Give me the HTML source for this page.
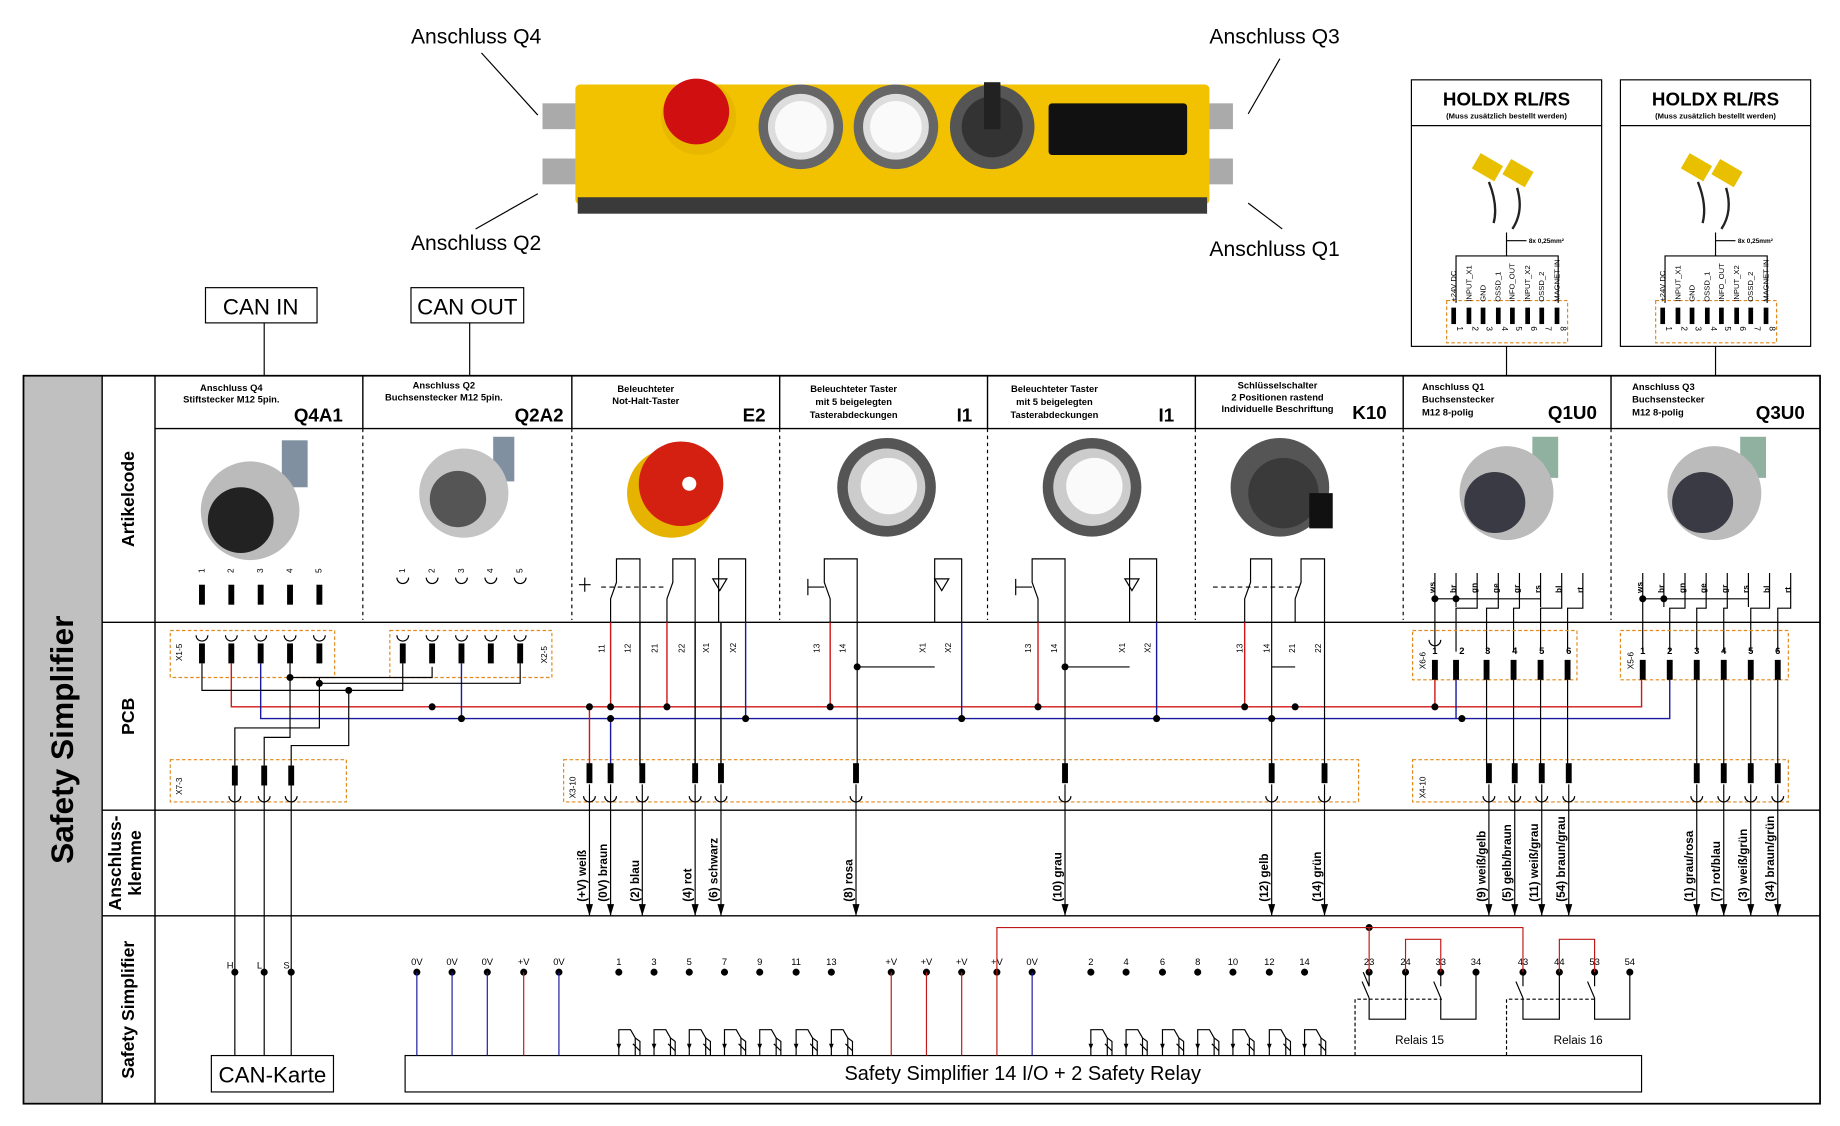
<!DOCTYPE html>
<html><head><meta charset="utf-8"><style>
html,body{margin:0;padding:0;background:#fff}
svg{display:block}
text{font-family:"Liberation Sans",sans-serif}
</style></head><body>
<svg width="1840" height="1126" viewBox="0 0 1567 959" preserveAspectRatio="none" xmlns="http://www.w3.org/2000/svg">
<defs>
<g id="bar"><rect x="-2.5" y="0" width="5" height="17" fill="#000"/></g>
<g id="cup"><path d="M-5,0 a5,5 0 0 0 10,0" fill="none" stroke="#000" stroke-width="1"/></g>
<g id="dot"><circle r="3" fill="#000"/></g>
<g id="arr"><path d="M-3,-10 L3,-10 L0,0 Z" fill="#000"/></g>
<g id="tr"><path d="M0,0 V-22 H10 L14,-15 V0 M14,-15 L18,-12 V0 M12,-10 l6,6" fill="none" stroke="#000" stroke-width="1"/><path d="M-2,-10 l2,5 l2,-5z" fill="#000"/></g>
</defs>

<!-- top device -->
<text x="350" y="37" font-size="18">Anschluss Q4</text>
<text x="350" y="213" font-size="18">Anschluss Q2</text>
<text x="1030" y="37" font-size="18">Anschluss Q3</text>
<text x="1030" y="218" font-size="18">Anschluss Q1</text>
<line x1="410" y1="45" x2="458" y2="98" stroke="#000"/>
<line x1="405" y1="195" x2="458" y2="165" stroke="#000"/>
<line x1="1090" y1="50" x2="1063" y2="97" stroke="#000"/>
<line x1="1063" y1="173" x2="1092" y2="195" stroke="#000"/>
<rect x="462" y="88" width="30" height="22" fill="#aaa"/><rect x="462" y="135" width="30" height="22" fill="#aaa"/>
<rect x="1028" y="88" width="22" height="22" fill="#aaa"/><rect x="1028" y="135" width="22" height="22" fill="#aaa"/>
<rect x="490" y="72" width="540" height="102" rx="4" fill="#f2c200"/>
<rect x="492" y="168" width="536" height="14" fill="#3a3a3a"/>
<circle cx="595" cy="100" r="32" fill="#e8b800"/><circle cx="593" cy="95" r="28" fill="#d01010"/>
<circle cx="682" cy="108" r="36" fill="#666"/><circle cx="682" cy="108" r="28" fill="#ddd"/><circle cx="682" cy="108" r="22" fill="#fafafa"/>
<circle cx="763" cy="108" r="36" fill="#666"/><circle cx="763" cy="108" r="28" fill="#ddd"/><circle cx="763" cy="108" r="22" fill="#fafafa"/>
<circle cx="845" cy="108" r="36" fill="#555"/><circle cx="845" cy="108" r="26" fill="#333"/><rect x="838" y="70" width="14" height="40" fill="#222"/>
<rect x="893" y="88" width="118" height="44" rx="3" fill="#111"/>

<!-- CAN boxes -->
<rect x="175" y="245" width="95" height="30" fill="#fff" stroke="#000"/><text x="222" y="268" font-size="19" text-anchor="middle">CAN IN</text>
<rect x="350" y="245" width="96" height="30" fill="#fff" stroke="#000"/><text x="398" y="268" font-size="19" text-anchor="middle">CAN OUT</text>
<line x1="225" y1="275" x2="225" y2="320" stroke="#000"/><line x1="400" y1="275" x2="400" y2="320" stroke="#000"/>

<!-- HOLDX boxes -->
<g id="hx">
<rect x="1202" y="68" width="162" height="227" fill="#fff" stroke="#000"/>
<line x1="1202" y1="107" x2="1364" y2="107" stroke="#000"/>
<text x="1283" y="90" font-size="16" font-weight="bold" text-anchor="middle">HOLDX RL/RS</text>
<text x="1283" y="101" font-size="6.5" font-weight="bold" text-anchor="middle">(Muss zusätzlich bestellt werden)</text>
<rect x="1256" y="135" width="22" height="15" fill="#e8c000" transform="rotate(30 1267 142)"/>
<rect x="1282" y="140" width="22" height="15" fill="#e8c000" transform="rotate(30 1293 147)"/>
<path d="M1268,155 q8,20 4,35 M1292,160 q6,20 -4,35" stroke="#222" stroke-width="2" fill="none"/>
<line x1="1283" y1="198" x2="1283" y2="218" stroke="#000"/><line x1="1283" y1="205" x2="1300" y2="205" stroke="#000"/>
<text x="1302" y="207" font-size="5.5" font-weight="bold">8x 0,25mm²</text>
<path d="M1240,258 V218 H1327 V258" fill="none" stroke="#000"/>
<rect x="1232" y="256" width="103" height="36" fill="none" stroke="#e08a1e" stroke-dasharray="3,2"/>
<g font-size="6.5">
<text transform="translate(1240,257) rotate(-90)">+24V DC</text>
<text transform="translate(1253,257) rotate(-90)">INPUT_X1</text>
<text transform="translate(1265,257) rotate(-90)">GND</text>
<text transform="translate(1278,257) rotate(-90)">OSSD_1</text>
<text transform="translate(1290,257) rotate(-90)">INFO_OUT</text>
<text transform="translate(1303,257) rotate(-90)">INPUT_X2</text>
<text transform="translate(1315,257) rotate(-90)">OSSD_2</text>
<text transform="translate(1328,257) rotate(-90)">MAGNET IN</text>
</g>
<g fill="#000"><rect x="1236" y="262" width="4" height="14"/><rect x="1249" y="262" width="4" height="14"/><rect x="1261" y="262" width="4" height="14"/><rect x="1274" y="262" width="4" height="14"/><rect x="1286" y="262" width="4" height="14"/><rect x="1299" y="262" width="4" height="14"/><rect x="1311" y="262" width="4" height="14"/><rect x="1324" y="262" width="4" height="14"/></g>
<g font-size="7"><text transform="translate(1241,278) rotate(90)">1</text><text transform="translate(1254,278) rotate(90)">2</text><text transform="translate(1266,278) rotate(90)">3</text><text transform="translate(1279,278) rotate(90)">4</text><text transform="translate(1291,278) rotate(90)">5</text><text transform="translate(1304,278) rotate(90)">6</text><text transform="translate(1316,278) rotate(90)">7</text><text transform="translate(1329,278) rotate(90)">8</text></g>
</g>
<use href="#hx" x="178"/>
<line x1="1283" y1="295" x2="1283" y2="320" stroke="#000"/><line x1="1461" y1="295" x2="1461" y2="320" stroke="#000"/>

<!-- main frame -->
<rect x="20" y="320" width="67" height="620" fill="#c0c0c0"/>
<rect x="20" y="320" width="1530" height="620" fill="none" stroke="#000" stroke-width="1.5"/>
<g stroke="#000" stroke-width="1.2">
<line x1="87" y1="320" x2="87" y2="940"/><line x1="132" y1="320" x2="132" y2="940"/>
<line x1="87" y1="530" x2="1550" y2="530"/><line x1="87" y1="690" x2="1550" y2="690"/><line x1="87" y1="780" x2="1550" y2="780"/>
<line x1="132" y1="365" x2="1550" y2="365"/>
<line x1="309" y1="320" x2="309" y2="365"/><line x1="487" y1="320" x2="487" y2="365"/><line x1="664" y1="320" x2="664" y2="365"/><line x1="841" y1="320" x2="841" y2="365"/><line x1="1018" y1="320" x2="1018" y2="365"/><line x1="1195" y1="320" x2="1195" y2="365"/><line x1="1372" y1="320" x2="1372" y2="365"/>
</g>
<g stroke="#000" stroke-dasharray="3,3">
<line x1="309" y1="365" x2="309" y2="528"/><line x1="487" y1="365" x2="487" y2="528"/><line x1="664" y1="365" x2="664" y2="528"/><line x1="841" y1="365" x2="841" y2="528"/><line x1="1018" y1="365" x2="1018" y2="528"/><line x1="1195" y1="365" x2="1195" y2="528"/><line x1="1372" y1="365" x2="1372" y2="528"/>
</g>
<text transform="translate(62,630) rotate(-90)" font-size="27" font-weight="bold" text-anchor="middle">Safety Simplifier</text>
<g font-weight="bold" font-size="15" text-anchor="middle">
<text transform="translate(114,425) rotate(-90)">Artikelcode</text>
<text transform="translate(114,610) rotate(-90)">PCB</text>
<text transform="translate(103,735) rotate(-90)">Anschluss-</text>
<text transform="translate(120,735) rotate(-90)">klemme</text>
<text transform="translate(114,860) rotate(-90)">Safety Simplifier</text>
</g>

<!-- header texts -->
<g font-size="8" font-weight="bold" text-anchor="middle">
<text x="197" y="333">Anschluss Q4</text><text x="197" y="343">Stiftstecker M12 5pin.</text>
<text x="378" y="331">Anschluss Q2</text><text x="378" y="341">Buchsenstecker M12 5pin.</text>
<text x="550" y="334">Beleuchteter</text><text x="550" y="344">Not-Halt-Taster</text>
<text x="727" y="334">Beleuchteter Taster</text><text x="727" y="345">mit 5 beigelegten</text><text x="727" y="356">Tasterabdeckungen</text>
<text x="898" y="334">Beleuchteter Taster</text><text x="898" y="345">mit 5 beigelegten</text><text x="898" y="356">Tasterabdeckungen</text>
<text x="1088" y="331">Schlüsselschalter</text><text x="1088" y="341">2 Positionen rastend</text><text x="1088" y="351">Individuelle Beschriftung</text>
</g>
<g font-size="8" font-weight="bold">
<text x="1211" y="332">Anschluss Q1</text><text x="1211" y="343">Buchsenstecker</text><text x="1211" y="354">M12 8-polig</text>
<text x="1390" y="332">Anschluss Q3</text><text x="1390" y="343">Buchsenstecker</text><text x="1390" y="354">M12 8-polig</text>
</g>
<g font-size="16" font-weight="bold" text-anchor="end">
<text x="292" y="359">Q4A1</text><text x="480" y="359">Q2A2</text><text x="652" y="359">E2</text><text x="828" y="359">I1</text><text x="1000" y="359">I1</text><text x="1181" y="357">K10</text><text x="1360" y="357">Q1U0</text><text x="1537" y="357">Q3U0</text>
</g>

<!-- component images -->
<rect x="240" y="375" width="22" height="40" fill="#8090a0"/>
<circle cx="213" cy="435" r="42" fill="#bbb"/><circle cx="205" cy="443" r="28" fill="#222"/>
<rect x="420" y="372" width="18" height="38" fill="#8090a0"/>
<circle cx="395" cy="420" r="38" fill="#c4c4c4"/><circle cx="390" cy="425" r="24" fill="#555"/>
<circle cx="572" cy="420" r="38" fill="#e6b400"/><circle cx="580" cy="412" r="36" fill="#d42010"/><circle cx="587" cy="412" r="6" fill="#fff"/>
<circle cx="755" cy="415" r="42" fill="#555"/><circle cx="755" cy="415" r="33" fill="#ccc"/><circle cx="757" cy="414" r="24" fill="#fafafa"/>
<circle cx="930" cy="415" r="42" fill="#555"/><circle cx="930" cy="415" r="33" fill="#ccc"/><circle cx="932" cy="414" r="24" fill="#fafafa"/>
<circle cx="1090" cy="415" r="42" fill="#555"/><circle cx="1093" cy="420" r="30" fill="#3a3a3a"/><rect x="1115" y="420" width="20" height="30" fill="#111"/>
<rect x="1305" y="372" width="22" height="35" fill="#90b0a0"/>
<circle cx="1283" cy="420" r="40" fill="#bbb"/><circle cx="1273" cy="428" r="26" fill="#3a3a44"/>
<rect x="1482" y="372" width="22" height="35" fill="#90b0a0"/>
<circle cx="1460" cy="420" r="40" fill="#bbb"/><circle cx="1450" cy="428" r="26" fill="#3a3a44"/>

<!-- pins Q4A1 -->
<g font-size="7">
<text transform="translate(174,488) rotate(-90)">1</text><text transform="translate(199,488) rotate(-90)">2</text><text transform="translate(224,488) rotate(-90)">3</text><text transform="translate(249,488) rotate(-90)">4</text><text transform="translate(274,488) rotate(-90)">5</text>
<text transform="translate(345,488) rotate(-90)">1</text><text transform="translate(370,488) rotate(-90)">2</text><text transform="translate(395,488) rotate(-90)">3</text><text transform="translate(420,488) rotate(-90)">4</text><text transform="translate(445,488) rotate(-90)">5</text>
</g>
<use href="#bar" x="172" y="498"/><use href="#bar" x="197" y="498"/><use href="#bar" x="222" y="498"/><use href="#bar" x="247" y="498"/><use href="#bar" x="272" y="498"/>
<g><use href="#cup" x="343" y="492"/><use href="#cup" x="368" y="492"/><use href="#cup" x="393" y="492"/><use href="#cup" x="418" y="492"/><use href="#cup" x="443" y="492"/></g>

<!-- switch symbols -->
<g stroke="#000" fill="none" stroke-width="1">
<path d="M520,530 V510 l5,-14 V476 H545 V530"/><path d="M568,530 V510 l5,-14 V476 H592 V530"/><path d="M612,530 V476 H635 V530"/>
<path d="M512,500 H568" stroke-dasharray="4,3"/><path d="M493,498 h10 M498,492 v12"/>
<path d="M707,530 V510 l-5,-14 V476 H730 V530"/><path d="M688,500 h14 M688,493 v14"/><path d="M796,530 V476 H819 V530"/>
<path d="M884,530 V510 l-5,-14 V476 H907 V530"/><path d="M865,500 h14 M865,493 v14"/><path d="M962,530 V476 H985 V530"/>
<path d="M1060,530 V510 l5,-14 V476 H1083 V530"/><path d="M1103,530 V510 l5,-14 V476 H1128 V530"/><path d="M1033,500 H1108" stroke-dasharray="4,3"/>
</g>
<path d="M607,493 h12 l-6,10z M796,493 h12 l-6,10z M958,493 h12 l-6,10z" fill="none" stroke="#000"/>

<!-- Q1/Q3 pin symbols -->
<g font-size="7" font-weight="bold">
<text transform="translate(1222,505) rotate(-90)">ws</text><text transform="translate(1240,505) rotate(-90)">br</text><text transform="translate(1258,505) rotate(-90)">gn</text><text transform="translate(1276,505) rotate(-90)">ge</text><text transform="translate(1294,505) rotate(-90)">gr</text><text transform="translate(1312,505) rotate(-90)">rs</text><text transform="translate(1330,505) rotate(-90)">bl</text><text transform="translate(1348,505) rotate(-90)">rt</text>
<text transform="translate(1399,505) rotate(-90)">ws</text><text transform="translate(1417,505) rotate(-90)">br</text><text transform="translate(1435,505) rotate(-90)">gn</text><text transform="translate(1453,505) rotate(-90)">ge</text><text transform="translate(1471,505) rotate(-90)">gr</text><text transform="translate(1489,505) rotate(-90)">rs</text><text transform="translate(1507,505) rotate(-90)">bl</text><text transform="translate(1525,505) rotate(-90)">rt</text>
</g>
<g stroke="#000" fill="none">
<path d="M1222,488 V555 M1240,488 V517 M1258,488 V518 H1240 V555 M1276,488 V518 H1266 V555 M1294,488 V518 H1289 V555 M1312,488 V517 M1330,488 V518 H1312 V555 M1348,488 V518 H1335 V555 M1222,510 H1312"/>
<path d="M1399,488 V555 M1417,488 V517 M1435,488 V518 H1422 V555 M1453,488 V518 H1445 V555 M1471,488 V518 H1468 V555 M1489,488 V517 M1507,488 V518 H1491 V555 M1525,488 V518 H1514 V555 M1399,510 H1489"/>
</g>
<use href="#dot" x="1222" y="510"/><use href="#dot" x="1240" y="510"/><use href="#dot" x="1399" y="510"/><use href="#dot" x="1417" y="510"/>

<!-- PCB boxes -->
<g fill="none" stroke="#e08a1e" stroke-dasharray="3,2">
<rect x="145" y="537" width="140" height="40"/><rect x="332" y="537" width="138" height="40"/>
<rect x="1203" y="537" width="140" height="42"/><rect x="1380" y="537" width="143" height="42"/>
<rect x="145" y="647" width="150" height="36"/><rect x="480" y="647" width="677" height="36"/><rect x="1203" y="647" width="320" height="36"/>
</g>
<g font-size="7">
<text transform="translate(155,563) rotate(-90)">X1-5</text><text transform="translate(466,565) rotate(-90)">X2-5</text>
<text transform="translate(155,677) rotate(-90)">X7-3</text><text transform="translate(490,680) rotate(-90)">X3-10</text>
<text transform="translate(1214,570) rotate(-90)">X6-6</text><text transform="translate(1391,570) rotate(-90)">X5-6</text>
<text transform="translate(1214,680) rotate(-90)">X4-10</text>
</g>
<g>
<use href="#cup" x="172" y="541"/><use href="#cup" x="197" y="541"/><use href="#cup" x="222" y="541"/><use href="#cup" x="247" y="541"/><use href="#cup" x="272" y="541"/>
<use href="#cup" x="343" y="541"/><use href="#cup" x="368" y="541"/><use href="#cup" x="393" y="541"/><use href="#cup" x="418" y="541"/><use href="#cup" x="443" y="541"/>
<use href="#bar" x="172" y="548"/><use href="#bar" x="197" y="548"/><use href="#bar" x="222" y="548"/><use href="#bar" x="247" y="548"/><use href="#bar" x="272" y="548"/>
<use href="#bar" x="343" y="548"/><use href="#bar" x="368" y="548"/><use href="#bar" x="393" y="548"/><use href="#bar" x="418" y="548"/><use href="#bar" x="443" y="548"/>
<use href="#bar" x="1222" y="562"/><use href="#bar" x="1240" y="562"/><use href="#bar" x="1266" y="562"/><use href="#bar" x="1289" y="562"/><use href="#bar" x="1312" y="562"/><use href="#bar" x="1335" y="562"/>
<use href="#bar" x="1399" y="562"/><use href="#bar" x="1422" y="562"/><use href="#bar" x="1445" y="562"/><use href="#bar" x="1468" y="562"/><use href="#bar" x="1491" y="562"/><use href="#bar" x="1514" y="562"/>
<use href="#cup" x="1222" y="545"/>
</g>
<g font-size="8" font-weight="bold" text-anchor="middle">
<text x="1222" y="557">1</text><text x="1245" y="557">2</text><text x="1267" y="557">3</text><text x="1290" y="557">4</text><text x="1313" y="557">5</text><text x="1336" y="557">6</text>
<text x="1399" y="557">1</text><text x="1422" y="557">2</text><text x="1445" y="557">3</text><text x="1468" y="557">4</text><text x="1491" y="557">5</text><text x="1514" y="557">6</text>
</g>
<g font-size="7">
<text transform="translate(515,556) rotate(-90)">11</text><text transform="translate(537,556) rotate(-90)">12</text><text transform="translate(560,556) rotate(-90)">21</text><text transform="translate(583,556) rotate(-90)">22</text><text transform="translate(604,556) rotate(-90)">X1</text><text transform="translate(627,556) rotate(-90)">X2</text>
<text transform="translate(698,556) rotate(-90)">13</text><text transform="translate(720,556) rotate(-90)">14</text><text transform="translate(788,556) rotate(-90)">X1</text><text transform="translate(810,556) rotate(-90)">X2</text>
<text transform="translate(878,556) rotate(-90)">13</text><text transform="translate(900,556) rotate(-90)">14</text><text transform="translate(958,556) rotate(-90)">X1</text><text transform="translate(980,556) rotate(-90)">X2</text>
<text transform="translate(1058,556) rotate(-90)">13</text><text transform="translate(1081,556) rotate(-90)">14</text><text transform="translate(1103,556) rotate(-90)">21</text><text transform="translate(1125,556) rotate(-90)">22</text>
</g>

<!-- PCB wiring -->
<g fill="none" stroke-width="1.2">
<path d="M197,565 V602 H1398 V579 M520,530 V602 M568,530 V602 M707,530 V602 M884,530 V602 M1060,530 V602 M1222,579 V602" stroke="#d01818"/>
<path d="M222,565 V612 H1422 V579 M393,565 V612 M635,530 V612 M819,530 V612 M985,530 V612 M1240,579 V612" stroke="#1a1aa0"/>
<path d="M502,602 V652" stroke="#d01818"/><path d="M520,612 V652" stroke="#1a1aa0"/>
<path d="M545,530 V652 M592,530 V652 M614,530 V652" stroke="#000"/>
</g>
<g fill="none" stroke="#000">
<path d="M172,565 V588 H343 V565 M247,565 V577 H368 V568 M272,565 V560 M272,577 V582 H443 V565 M297,588 V635 H248 V652 M247,577 V628 H225 V652 M272,582 V620 H200 V652"/>
<path d="M730,530 V652 M730,568 H796 M907,530 V652 M907,568 H962 M1083,530 V652 M1083,568 H1103 M1128,530 V652"/>
<path d="M1266,579 V652 M1289,579 V652 M1312,579 V652 M1335,579 V652 M1445,579 V652 M1468,579 V652 M1491,579 V652 M1514,579 V652"/>
</g>
<use href="#dot" x="247" y="577"/><use href="#dot" x="272" y="582"/><use href="#dot" x="297" y="588"/><use href="#dot" x="368" y="602"/><use href="#dot" x="393" y="612"/>
<use href="#dot" x="502" y="602"/><use href="#dot" x="520" y="602"/><use href="#dot" x="568" y="602"/><use href="#dot" x="520" y="612"/><use href="#dot" x="635" y="612"/>
<use href="#dot" x="707" y="602"/><use href="#dot" x="819" y="612"/><use href="#dot" x="730" y="568"/><use href="#dot" x="884" y="602"/><use href="#dot" x="985" y="612"/><use href="#dot" x="907" y="568"/>
<use href="#dot" x="1060" y="602"/><use href="#dot" x="1083" y="612"/><use href="#dot" x="1103" y="602"/><use href="#dot" x="1222" y="602"/><use href="#dot" x="1245" y="612"/>

<!-- lower bars & cups -->
<g>
<use href="#bar" x="200" y="652"/><use href="#bar" x="225" y="652"/><use href="#bar" x="248" y="652"/>
<use href="#bar" x="502" y="650"/><use href="#bar" x="520" y="650"/><use href="#bar" x="547" y="650"/><use href="#bar" x="592" y="650"/><use href="#bar" x="614" y="650"/><use href="#bar" x="729" y="650"/><use href="#bar" x="907" y="650"/><use href="#bar" x="1083" y="650"/><use href="#bar" x="1128" y="650"/>
<use href="#bar" x="1268" y="650"/><use href="#bar" x="1290" y="650"/><use href="#bar" x="1313" y="650"/><use href="#bar" x="1336" y="650"/><use href="#bar" x="1445" y="650"/><use href="#bar" x="1468" y="650"/><use href="#bar" x="1491" y="650"/><use href="#bar" x="1514" y="650"/>
</g>
<g fill="none" stroke="#000">
<path d="M200,668 V899 M225,668 V899 M248,668 V899"/>
<path d="M502,668 V780 M520,668 V780 M547,668 V780 M592,668 V780 M614,668 V780 M729,668 V780 M907,668 V780 M1083,668 V780 M1128,668 V780 M1268,668 V780 M1290,668 V780 M1313,668 V780 M1336,668 V780 M1445,668 V780 M1468,668 V780 M1491,668 V780 M1514,668 V780"/>
</g>
<g fill="none" stroke="#000"><path d="M195,678 a5,5 0 0 0 10,0 M220,678 a5,5 0 0 0 10,0 M243,678 a5,5 0 0 0 10,0 M497,678 a5,5 0 0 0 10,0 M515,678 a5,5 0 0 0 10,0 M542,678 a5,5 0 0 0 10,0 M587,678 a5,5 0 0 0 10,0 M609,678 a5,5 0 0 0 10,0 M724,678 a5,5 0 0 0 10,0 M902,678 a5,5 0 0 0 10,0 M1078,678 a5,5 0 0 0 10,0 M1123,678 a5,5 0 0 0 10,0 M1263,678 a5,5 0 0 0 10,0 M1285,678 a5,5 0 0 0 10,0 M1308,678 a5,5 0 0 0 10,0 M1331,678 a5,5 0 0 0 10,0 M1440,678 a5,5 0 0 0 10,0 M1463,678 a5,5 0 0 0 10,0 M1486,678 a5,5 0 0 0 10,0 M1509,678 a5,5 0 0 0 10,0"/></g>

<!-- arrows -->
<g>
<use href="#arr" x="502" y="780"/><use href="#arr" x="520" y="780"/><use href="#arr" x="547" y="780"/><use href="#arr" x="592" y="780"/><use href="#arr" x="614" y="780"/><use href="#arr" x="729" y="780"/><use href="#arr" x="907" y="780"/><use href="#arr" x="1083" y="780"/><use href="#arr" x="1128" y="780"/>
<use href="#arr" x="1268" y="780"/><use href="#arr" x="1290" y="780"/><use href="#arr" x="1313" y="780"/><use href="#arr" x="1336" y="780"/><use href="#arr" x="1445" y="780"/><use href="#arr" x="1468" y="780"/><use href="#arr" x="1491" y="780"/><use href="#arr" x="1514" y="780"/>
</g>
<g font-size="10" font-weight="bold">
<text transform="translate(499,768) rotate(-90)">(+V) weiß</text><text transform="translate(517,768) rotate(-90)">(0V) braun</text><text transform="translate(544,768) rotate(-90)">(2) blau</text><text transform="translate(589,768) rotate(-90)">(4) rot</text><text transform="translate(611,768) rotate(-90)">(6) schwarz</text><text transform="translate(726,768) rotate(-90)">(8) rosa</text><text transform="translate(904,768) rotate(-90)">(10) grau</text><text transform="translate(1080,768) rotate(-90)">(12) gelb</text><text transform="translate(1125,768) rotate(-90)">(14) grün</text>
<text transform="translate(1265,768) rotate(-90)">(9) weiß/gelb</text><text transform="translate(1287,768) rotate(-90)">(5) gelb/braun</text><text transform="translate(1310,768) rotate(-90)">(11) weiß/grau</text><text transform="translate(1333,768) rotate(-90)">(54) braun/grau</text>
<text transform="translate(1442,768) rotate(-90)">(1) grau/rosa</text><text transform="translate(1465,768) rotate(-90)">(7) rot/blau</text><text transform="translate(1488,768) rotate(-90)">(3) weiß/grün</text><text transform="translate(1511,768) rotate(-90)">(34) braun/grün</text>
</g>

<!-- bottom section -->
<rect x="180" y="899" width="104" height="31" fill="#fff" stroke="#000"/><text x="232" y="922" font-size="19" text-anchor="middle">CAN-Karte</text>
<rect x="345" y="899" width="1053" height="31" fill="#fff" stroke="#000"/><text x="871" y="920" font-size="17" text-anchor="middle">Safety Simplifier 14 I/O + 2 Safety Relay</text>
<g font-size="8" text-anchor="middle">
<text x="196" y="825">H</text><text x="221" y="825">L</text><text x="244" y="825">S</text>
<text x="355" y="822">0V</text><text x="385" y="822">0V</text><text x="415" y="822">0V</text><text x="446" y="822">+V</text><text x="476" y="822">0V</text>
<text x="527" y="822">1</text><text x="557" y="822">3</text><text x="587" y="822">5</text><text x="617" y="822">7</text><text x="647" y="822">9</text><text x="678" y="822">11</text><text x="708" y="822">13</text>
<text x="759" y="822">+V</text><text x="789" y="822">+V</text><text x="819" y="822">+V</text><text x="849" y="822">+V</text><text x="879" y="822">0V</text>
<text x="929" y="822">2</text><text x="959" y="822">4</text><text x="990" y="822">6</text><text x="1020" y="822">8</text><text x="1050" y="822">10</text><text x="1081" y="822">12</text><text x="1111" y="822">14</text>
<text x="1166" y="822">23</text><text x="1197" y="822">24</text><text x="1227" y="822">33</text><text x="1257" y="822">34</text><text x="1297" y="822">43</text><text x="1328" y="822">44</text><text x="1358" y="822">53</text><text x="1388" y="822">54</text>
<text x="1209" y="889" font-size="10">Relais 15</text><text x="1344" y="889" font-size="10">Relais 16</text>
</g>
<g>
<use href="#dot" x="200" y="828"/><use href="#dot" x="225" y="828"/><use href="#dot" x="248" y="828"/>
<use href="#dot" x="355" y="828"/><use href="#dot" x="385" y="828"/><use href="#dot" x="415" y="828"/><use href="#dot" x="446" y="828"/><use href="#dot" x="476" y="828"/>
<use href="#dot" x="527" y="828"/><use href="#dot" x="557" y="828"/><use href="#dot" x="587" y="828"/><use href="#dot" x="617" y="828"/><use href="#dot" x="647" y="828"/><use href="#dot" x="678" y="828"/><use href="#dot" x="708" y="828"/>
<use href="#dot" x="759" y="828"/><use href="#dot" x="789" y="828"/><use href="#dot" x="819" y="828"/><use href="#dot" x="849" y="828"/><use href="#dot" x="879" y="828"/>
<use href="#dot" x="929" y="828"/><use href="#dot" x="959" y="828"/><use href="#dot" x="990" y="828"/><use href="#dot" x="1020" y="828"/><use href="#dot" x="1050" y="828"/><use href="#dot" x="1081" y="828"/><use href="#dot" x="1111" y="828"/>
<use href="#dot" x="1166" y="828"/><use href="#dot" x="1197" y="828"/><use href="#dot" x="1227" y="828"/><use href="#dot" x="1257" y="828"/><use href="#dot" x="1297" y="828"/><use href="#dot" x="1328" y="828"/><use href="#dot" x="1358" y="828"/><use href="#dot" x="1388" y="828"/>
<use href="#dot" x="1166" y="790"/>
</g>
<g fill="none" stroke-width="1">
<path d="M355,828 V899 M385,828 V899 M415,828 V899 M476,828 V899 M879,828 V899" stroke="#1a1aa0"/>
<path d="M446,828 V899 M759,828 V899 M789,828 V899 M819,828 V899 M849,828 V790 H1297 V828 M1166,790 V828 M1197,828 V800 H1227 V828 M1328,828 V800 H1358 V828" stroke="#c01818"/>
<path d="M849,828 V899" stroke="#c01818"/>
</g>
<g>
<use href="#tr" x="527" y="899"/><use href="#tr" x="557" y="899"/><use href="#tr" x="587" y="899"/><use href="#tr" x="617" y="899"/><use href="#tr" x="647" y="899"/><use href="#tr" x="678" y="899"/><use href="#tr" x="708" y="899"/>
<use href="#tr" x="929" y="899"/><use href="#tr" x="959" y="899"/><use href="#tr" x="990" y="899"/><use href="#tr" x="1020" y="899"/><use href="#tr" x="1050" y="899"/><use href="#tr" x="1081" y="899"/><use href="#tr" x="1111" y="899"/>
</g>
<g fill="none" stroke="#000">
<path d="M1166,828 V840 l-5,-12 M1166,850 V868 H1197 V828 M1227,828 V840 M1227,850 V868 H1257 V828 M1166,850 l-6,-14 M1227,850 l-6,-14"/>
<path d="M1154,899 V851 H1228" stroke-dasharray="3,2"/>
<path d="M1297,828 V840 M1297,850 V868 H1328 V828 M1358,828 V840 M1358,850 V868 H1388 V828 M1297,850 l-6,-14 M1358,850 l-6,-14"/>
<path d="M1283,899 V851 H1358" stroke-dasharray="3,2"/>
</g>
</svg>
</body></html>
